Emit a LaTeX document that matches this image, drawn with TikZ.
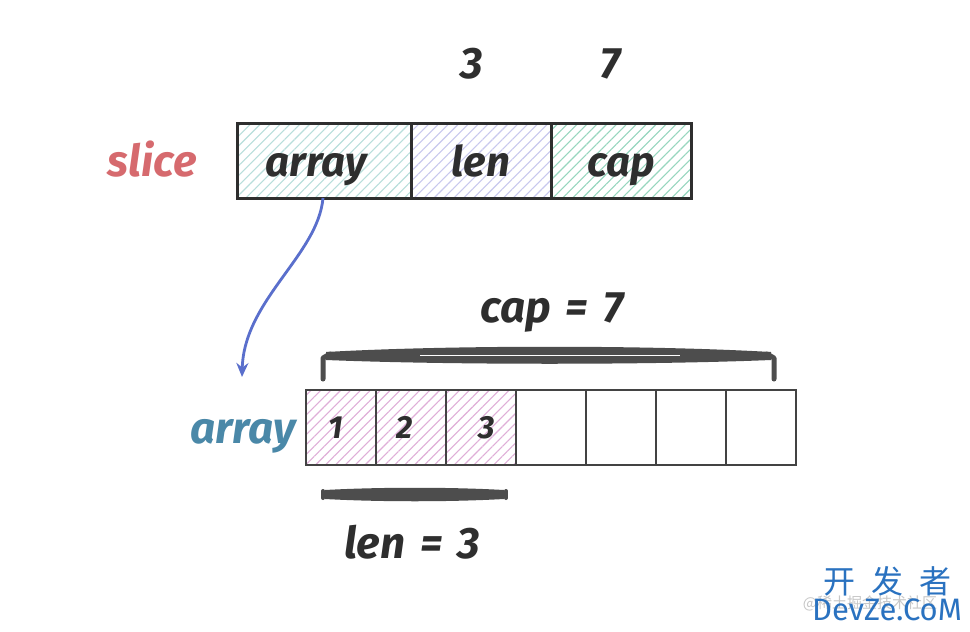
\documentclass[tikz,border=0pt]{standalone}
\usepackage{fontspec}
\setmainfont{Fira Sans}
\newfontfamily\hand{Fira Sans}[UprightFont=* Bold Italic]
\newfontfamily\cjk{Noto Sans CJK SC}
\usetikzlibrary{patterns.meta,arrows.meta}
\definecolor{inkc}{HTML}{2E2E2E}
\definecolor{slicered}{HTML}{D66A6E}
\definecolor{arrblue}{HTML}{4A88A8}
\definecolor{arrowblue}{HTML}{5A6FCC}
\definecolor{hatchA}{HTML}{B8DEDB}
\definecolor{hatchB}{HTML}{C8C8EE}
\definecolor{hatchC}{HTML}{96D6BE}
\definecolor{hatchP}{HTML}{DFAED8}
\definecolor{wmblue}{HTML}{2A72C0}
\tikzset{
  topbox/.style={draw=inkc, line width=3pt, minimum height=75pt, inner sep=0pt, outer sep=0pt},
  hatch/.style={pattern={Lines[angle=45,distance=7pt,line width=1.1pt]}, pattern color=#1},
  cell/.style={draw=inkc!90, line width=2pt, minimum width=70pt, minimum height=75pt, inner sep=0pt, outer sep=0pt},
  lbl/.style={font=\hand\fontsize{44}{46}\selectfont, text=inkc, inner sep=0pt, anchor=base},
  boxlbl/.style={font=\hand\fontsize{42}{44}\selectfont, text=inkc, inner sep=0pt, anchor=base},
  numlbl/.style={font=\hand\fontsize{32}{34}\selectfont, text=inkc, inner sep=0pt, anchor=base},
  brace/.style={draw=inkc!85, line width=5pt, line cap=round, line join=round},
}
\begin{document}
\begin{tikzpicture}[x=1pt,y=-1pt]
\useasboundingbox[fill=white] (0,0) rectangle (970,632);
% top slice struct
\node[topbox, minimum width=174pt, hatch=hatchA] (sarr) at (324,160.5) {};
\node[topbox, minimum width=140pt, hatch=hatchB] (slen) at (481,160.5) {};
\node[topbox, minimum width=140pt, hatch=hatchC] (scap) at (621,160.5) {};
\node[boxlbl] (tarr) at (316,176) {array};
\node[boxlbl] (tlen) at (481,176) {len};
\node[boxlbl] (tcap) at (621,176) {cap};
\node[lbl, text=slicered] (slice) at (152,176) {slice};
\node[lbl] (n3) at (472,78) {3};
\node[lbl] (n7) at (611,78) {7};
% underlying array
\foreach \i in {0,...,6} {
  \node[cell] (c\i) at ({341+70*\i},427.5) {};
}
\foreach \i in {0,1,2} {
  \node[cell, hatch=hatchP] (d\i) at (c\i) {};
}
\node[numlbl] (v1) at (336,438) {1};
\node[numlbl] (v2) at (405,438) {2};
\node[numlbl] (v3) at (487,438) {3};
\node[lbl, text=arrblue] (arrlbl) at (243,443) {array};
% arrow
\coordinate (aend) at (242,377);
\draw[arrowblue, line width=2.8pt, -{Stealth[length=14pt,width=12pt]}]
  (sarr.south west) ++(86,0) .. controls (318,255) and (244,300) .. (aend);
% cap brace
\coordinate (capL) at (323,379);
\coordinate (capR) at (774,379);
\fill[inkc!85] (326,352) .. controls (450,345) and (650,345) .. (771,352)
   -- (771,360) .. controls (650,365) and (450,365) .. (326,360) -- cycle;
\draw[brace] (capL) -- (323,358) -- (330,354);
\draw[brace] (capR) -- (774,358) -- (767,354);
\draw[white, line width=1.2pt] (420,355.5) -- (680,355.5);
\node[lbl] (capeq) at (552,322) {cap\,\,=\,\,7};
% len brace
\coordinate (lenL) at (323,498);
\coordinate (lenR) at (506,498);
\fill[inkc!85] (325,490) .. controls (380,487) and (450,487) .. (504,490)
  -- (504,499) .. controls (450,502) and (380,502) .. (325,499) -- cycle;
\draw[brace, line width=4pt] (lenL) -- (323,491);
\draw[brace, line width=4pt] (lenR) -- (506,491);
\node[lbl] (leneq) at (412,558) {len\,\,=\,\,3};
% watermark
\node[text=black!22, font=\cjk\fontsize{15}{16}\selectfont, inner sep=0pt] (wm1) at (870,603) {@稀土掘金技术社区};
\node[text=wmblue, font=\cjk\fontsize{32}{34}\selectfont, inner sep=0pt] (wm2) at (887,581) {开\,\,\,发\,\,\,者};
\node[text=wmblue, font=\fontsize{31}{32}\selectfont, inner sep=0pt] (wm3) at (887,610) {DevZe.CoM};
\end{tikzpicture}
\end{document}
